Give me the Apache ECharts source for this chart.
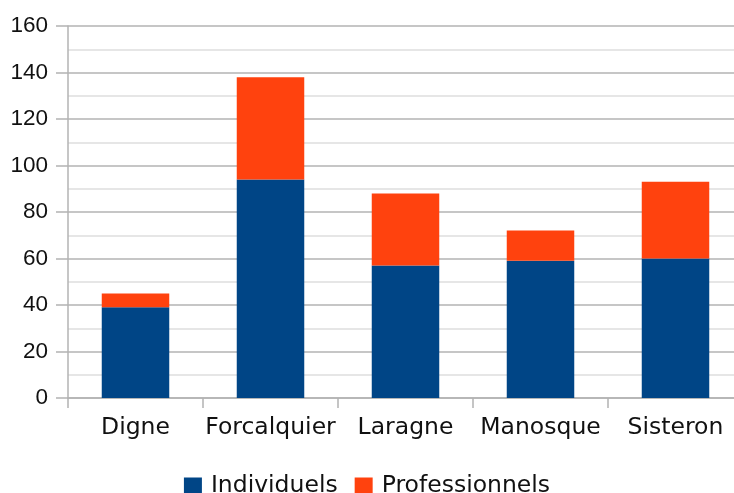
<!DOCTYPE html>
<html>
<head>
<meta charset="utf-8">
<script src="https://cdn.jsdelivr.net/npm/echarts@6/dist/echarts.min.js"></script>
<style>html,body{margin:0;padding:0;background:#fff}#c{width:734px;height:493px}</style>
</head>
<body>
<div id="c"></div>
<script>
const categories = ['Digne', 'Forcalquier', 'Laragne', 'Manosque', 'Sisteron'];
const individuels = [39, 94, 57, 59, 60];
const professionnels = [6, 44, 31, 13, 33];
const seriesNames = ['Individuels', 'Professionnels'];

const chart = echarts.init(document.getElementById('c'), null, {renderer: 'canvas'});
const axisGray = '#b3b3b3';
chart.setOption({
  animation: false,
  backgroundColor: '#ffffff',
  color: ['#004586', '#ff420e'],
  grid: {left: 68, width: 675, top: 26, height: 372, containLabel: false, outerBoundsMode: 'none'},
  legend: {
    top: 469,
    left: 'center',
    itemWidth: 18,
    itemHeight: 17,
    itemGap: 17,
    icon: 'rect',
    textStyle: {fontFamily: 'DejaVu Sans', fontSize: 23.5, color: '#111', padding: [0, 0, 0, 4]},
    data: seriesNames
  },
  xAxis: {
    type: 'category',
    data: categories,
    axisLine: {lineStyle: {color: axisGray, width: 1.5}},
    axisTick: {show: true, length: 10, interval: 0, lineStyle: {color: axisGray, width: 1.5}},
    axisLabel: {margin: 18, fontFamily: 'DejaVu Sans', fontSize: 23.5, color: '#111', interval: 0}
  },
  yAxis: {
    type: 'value',
    min: 0, max: 160, interval: 20,
    axisLine: {show: true, lineStyle: {color: axisGray, width: 1.5}},
    axisTick: {show: true, length: 12, lineStyle: {color: axisGray, width: 1.5}},
    axisLabel: {margin: 20, fontFamily: 'Liberation Sans', fontSize: 22.5, color: '#111'},
    splitLine: {show: true, lineStyle: {color: axisGray, width: 1.5}},
    minorTick: {show: false, splitNumber: 2},
    minorSplitLine: {show: true, lineStyle: {color: '#dedede', width: 1.5}}
  },
  series: [
    {name: seriesNames[0], type: 'bar', stack: 'total', barWidth: '50%', data: individuels},
    {name: seriesNames[1], type: 'bar', stack: 'total', barWidth: '50%', data: professionnels}
  ]
});
</script>
</body>
</html>
